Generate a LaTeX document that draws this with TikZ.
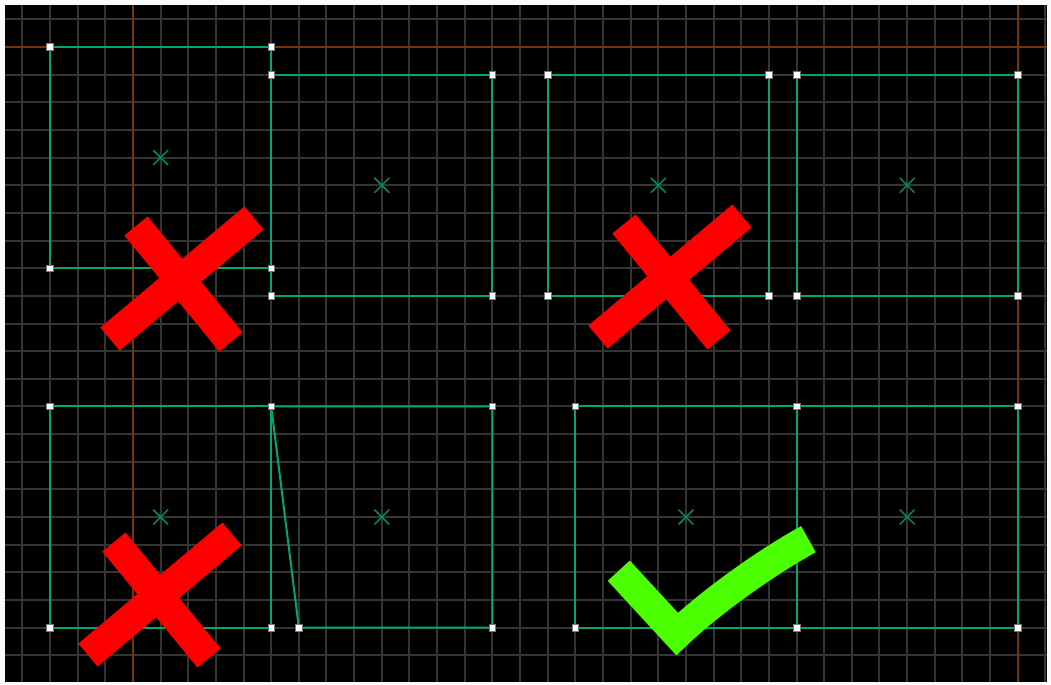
\documentclass[tikz,border=0pt]{standalone}
\usetikzlibrary{shapes.misc,calc}
\definecolor{cPaper}{RGB}{250,250,250}
\definecolor{cGrid}{RGB}{52,52,52}
\definecolor{cAxis}{RGB}{118,52,8}
\definecolor{cRim}{RGB}{0,168,112}
\definecolor{cMark}{RGB}{0,140,92}
\definecolor{cHandle}{RGB}{120,120,120}
\definecolor{cBad}{RGB}{255,0,0}
\definecolor{cGood}{RGB}{76,255,0}
\tikzset{
  gridln/.style={draw=cGrid, line width=1.5pt},
  axisln/.style={draw=cAxis, line width=1.5pt},
  rim/.style={draw=cRim, line width=1.5pt, line join=miter},
  handle/.style={rectangle, fill=white, draw=cHandle, line width=0.5pt,
    minimum size=5pt, inner sep=0pt},
  ctr/.style={cross out, draw=cMark, line width=1.1pt, minimum size=10pt, inner sep=0pt},
  nogo/.style={draw=cBad, line width=22.5pt},
  okmark/.style={draw=cGood, line width=22.5pt, line join=miter},
}

\begin{document}
\begin{tikzpicture}[x=0.7295cm, y=-0.7295cm]

% ===== canvas =====
\def\xL{-1.627}
\def\xR{36.058}
\def\yT{-1.519}
\def\yB{22.966}
\useasboundingbox[fill=cPaper] (-1.808,-1.700) rectangle (36.203,23.038);
\fill[black] (\xL,\yT) rectangle (\xR,\yB);

% ===== grid and axes =====
\foreach \gx in {-1,...,36} \draw[gridln] (\gx,\yT) -- (\gx,\yB);
\foreach \gy in {-1,...,22} \draw[gridln] (\xL,\gy) -- (\xR,\gy);
\draw[axisln] (3,\yT) -- (3,\yB);
\draw[axisln] (35,\yT) -- (35,\yB);
\draw[axisln] (\xL,0) -- (\xR,0);

% ===== vertices =====
\coordinate (a1) at (0,0);   \coordinate (a2) at (8,0);
\coordinate (a3) at (8,8);   \coordinate (a4) at (0,8);
\coordinate (b1) at (8,1);   \coordinate (b2) at (16,1);
\coordinate (b3) at (16,9);  \coordinate (b4) at (8,9);
\coordinate (c1) at (18,1);  \coordinate (c2) at (26,1);
\coordinate (c3) at (26,9);  \coordinate (c4) at (18,9);
\coordinate (d1) at (27,1);  \coordinate (d2) at (35,1);
\coordinate (d3) at (35,9);  \coordinate (d4) at (27,9);
\coordinate (e1) at (0,13);  \coordinate (e2) at (8,13);
\coordinate (e3) at (8,21);  \coordinate (e4) at (0,21);
\coordinate (f2) at (16,13); \coordinate (f3) at (16,21);
\coordinate (f4) at (9,21);
\coordinate (g1) at (19,13); \coordinate (g2) at (27,13);
\coordinate (g3) at (27,21); \coordinate (g4) at (19,21);
\coordinate (h2) at (35,13); \coordinate (h3) at (35,21);

% ===== rims =====
\draw[rim] (a1) -- (a2) -- (a3) -- (a4) -- cycle;
\draw[rim] (b1) -- (b2) -- (b3) -- (b4) -- cycle;
\draw[rim] (c1) -- (c2) -- (c3) -- (c4) -- cycle;
\draw[rim] (d1) -- (d2) -- (d3) -- (d4) -- cycle;
\draw[rim] (e1) -- (e2) -- (e3) -- (e4) -- cycle;
\draw[rim] (e2) -- (f2) -- (f3) -- (f4) -- cycle;
\draw[rim] (g1) -- (g2) -- (g3) -- (g4) -- cycle;
\draw[rim] (g2) -- (h2) -- (h3) -- (g3);

% ===== centres =====
\node[ctr] (ma) at (4,4) {};
\node[ctr] (mb) at (12,5) {};
\node[ctr] (mc) at (22,5) {};
\node[ctr] (md) at (31,5) {};
\node[ctr] (me) at (4,17) {};
\node[ctr] (mf) at (12,17) {};
\node[ctr] (mg) at (23,17) {};
\node[ctr] (mh) at (31,17) {};

% ===== handles =====
\foreach \v in {a1,a2,a3,a4,b1,b2,b3,b4,c1,c2,c3,c4,d1,d2,d3,d4,
                e1,e2,e3,e4,f2,f3,f4,g1,g2,g3,g4,h2,h3}
  \node[handle] (h\v) at (\v) {};

% ===== verdicts =====
\coordinate (x1) at (4.774,8.463);
\coordinate (x2) at (22.423,8.391);
\coordinate (x3) at (3.978,19.892);
\draw[nogo] ($(x1)+(-1.664,-1.989)$) -- ($(x1)+(1.772,2.206)$);
\draw[nogo] ($(x1)+(2.604,-2.278)$) -- ($(x1)+(-2.604,2.098)$);
\draw[nogo] ($(x2)+(-1.664,-1.989)$) -- ($(x2)+(1.772,2.206)$);
\draw[nogo] ($(x2)+(2.604,-2.278)$) -- ($(x2)+(-2.604,2.098)$);
\draw[nogo] ($(x3)+(-1.664,-1.989)$) -- ($(x3)+(1.772,2.206)$);
\draw[nogo] ($(x3)+(2.604,-2.278)$) -- ($(x3)+(-2.604,2.098)$);

\draw[okmark] (20.57,18.94) -- (22.68,21.23)
  .. controls (23.70,20.25) and (25.70,18.75) .. (27.43,17.80);

\end{tikzpicture}
\end{document}
